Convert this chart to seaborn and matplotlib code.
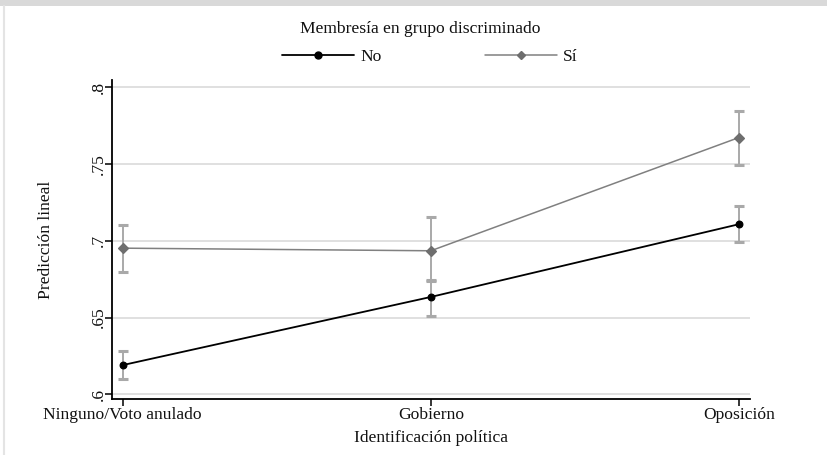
import matplotlib
matplotlib.use("Agg")
import matplotlib.pyplot as plt
from matplotlib.lines import Line2D
from matplotlib.patches import Rectangle
import numpy as np
import pandas as pd
import seaborn as sns

# Predicted values (linear prediction) with 95% confidence intervals
categories = ["Ninguno/Voto anulado", "Gobierno", "Oposición"]
groups = ["No", "Sí"]
pred_no = [0.619, 0.6634, 0.7108]
low_no = [0.6102, 0.6507, 0.6991]
high_no = [0.6283, 0.6745, 0.7224]
pred_si = [0.6952, 0.6935, 0.7673]
low_si = [0.6799, 0.6735, 0.7494]
high_si = [0.7104, 0.7157, 0.7847]
yticks = [0.6, 0.65, 0.7, 0.75, 0.8]
ytick_labels = [".6", ".65", ".7", ".75", ".8"]

df = pd.DataFrame({
    "cat": categories * 2,
    "grp": [groups[0]] * 3 + [groups[1]] * 3,
    "pred": pred_no + pred_si,
})

sns.set_theme(style="white")
plt.rcParams["font.family"] = ["Liberation Serif", "DejaVu Serif"]

fig = plt.figure(figsize=(8.28, 4.55), dpi=100)
fig.patch.set_facecolor("white")
ax = fig.add_axes([112 / 828, 1 - 399.3 / 455, (750 - 112) / 828, (399.3 - 80) / 455])

# frame decorations of the graph region
fig.patches.append(Rectangle((0, 1 - 6 / 455), 1, 6 / 455, transform=fig.transFigure,
                             facecolor="#d9d9d9", edgecolor="none", zorder=0))
fig.lines.append(Line2D([4 / 828, 4 / 828], [0, 1 - 6 / 455], transform=fig.transFigure,
                        color="#e4e4e4", lw=1.5))

# horizontal grid
for yv in yticks:
    ax.axhline(yv, color="#e0e0e0", lw=1.4, zorder=0)

# confidence intervals
ci_color = "#a9a9a9"
xpos = np.arange(len(categories))
for lo, hi in [(low_no, high_no), (low_si, high_si)]:
    lo = np.array(lo); hi = np.array(hi)
    mid = (lo + hi) / 2
    ax.errorbar(xpos, mid, yerr=[mid - lo, hi - mid], fmt="none", ecolor=ci_color,
                elinewidth=1.4, capsize=3.4, capthick=2.2, zorder=1)

sns.pointplot(data=df, x="cat", y="pred", hue="grp", order=categories, hue_order=groups,
              palette={"No": "black", "Sí": "#7a7a7a"}, markers=["o", "D"],
              linestyles=["-", "-"], errorbar=None, dodge=False, legend=False, ax=ax,
              markersize=5, linewidth=1.2)

# style the two series
series_lines = [l for l in ax.lines if len(l.get_xdata()) == 3]
if len(series_lines) >= 2:
    series_lines[-2].set_linewidth(1.3)
    series_lines[-2].set_markersize(4.8)
    series_lines[-2].set_zorder(3)
    series_lines[-1].set_linewidth(1.1)
    series_lines[-1].set_color("#808080")
    series_lines[-1].set_markerfacecolor("#6e6e6e")
    series_lines[-1].set_markeredgecolor("#6e6e6e")
    series_lines[-1].set_markersize(4.8)
    series_lines[-1].set_zorder(3)

ax.set_xlim(-0.035, 2.036)
ax.set_ylim(0.5967, 0.8048)
ax.set_yticks(yticks)
ax.set_yticklabels(ytick_labels, rotation=90, va="center")
ax.set_xticks(xpos)
ax.set_xticklabels(categories)

for s in ["top", "right"]:
    ax.spines[s].set_visible(False)
for s in ["left", "bottom"]:
    ax.spines[s].set_color("black")
    ax.spines[s].set_linewidth(1.3)
ax.tick_params(axis="both", which="major", direction="out", length=5, width=1.1,
               color="black", labelsize=12.6, labelcolor="#111111",
               left=True, bottom=True)
ax.tick_params(axis="x", pad=0.5)
ax.tick_params(axis="y", pad=-1)

ax.set_xlabel("Identificación política", fontsize=12.6, labelpad=5, color="#111111")
ax.set_ylabel("Predicción lineal", fontsize=12.6, labelpad=26, color="#111111")

# legend
fig.text(420 / 828, 1 - 29 / 455, "Membresía en grupo discriminado", ha="center",
         va="center", fontsize=12.6, color="#111111")
handles = [
    Line2D([], [], color="black", lw=1.3, marker="o", markersize=5),
    Line2D([], [], color="#808080", lw=1.1, marker="D", markersize=4.5,
           markerfacecolor="#6e6e6e", markeredgecolor="#6e6e6e"),
]
fig.legend(handles, groups, loc="center", bbox_to_anchor=(430 / 828, 1 - 57 / 455),
           ncol=2, frameon=False, fontsize=12.6, handlelength=4.1, handletextpad=0.35,
           columnspacing=5.9, labelcolor="#111111")

fig.savefig("out.png", dpi=100, facecolor="white")
